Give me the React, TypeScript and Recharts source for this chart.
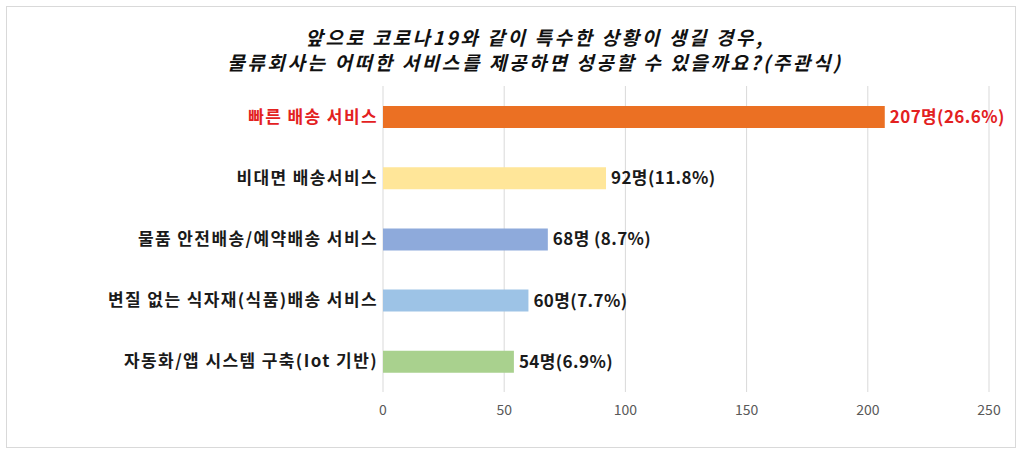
import { BarChart, Bar, XAxis, YAxis, CartesianGrid, Cell, LabelList } from "recharts";

const categories = [
  "빠른 배송 서비스",
  "비대면 배송서비스",
  "물품 안전배송/예약배송 서비스",
  "변질 없는 식자재(식품)배송 서비스",
  "자동화/앱 시스템 구축(Iot 기반)",
];
const counts = [207, 92, 68, 60, 54];
const valueLabels = ["207명(26.6%)", "92명(11.8%)", "68명 (8.7%)", "60명(7.7%)", "54명(6.9%)"];
const barColors = ["#eb7023", "#ffe699", "#8eaadb", "#9dc3e6", "#a9d18e"];
const xTicks = [0, 50, 100, 150, 200, 250];

const titleLines = [
  "앞으로 코로나19와 같이 특수한 상황이 생길 경우,",
  "물류회사는 어떠한 서비스를 제공하면 성공할 수 있을까요?(주관식)",
];

const FONT = "'Noto Sans CJK KR', 'Noto Sans', sans-serif";
const RED = "#e3211f";

const data = categories.map((name, i) => ({
  name,
  value: counts[i],
  label: valueLabels[i],
}));

function CategoryTick(props: any) {
  const { x, y, payload, index } = props;
  return (
    <text
      x={x + 1}
      y={y}
      dy={6}
      textAnchor="end"
      fontFamily={FONT}
      fontWeight={700}
      fontSize={17}
      letterSpacing={1.4}
      fill={index === 0 ? RED : "#1a1a1a"}
    >
      {payload.value}
    </text>
  );
}

function ValueLabel(props: any) {
  const { x, y, width, height, value, index } = props;
  return (
    <text
      x={x + width + 5}
      y={y + height / 2}
      dy={6}
      textAnchor="start"
      fontFamily={FONT}
      fontWeight={700}
      fontSize={17}
      letterSpacing={0.4}
      fill={index === 0 ? RED : "#1a1a1a"}
    >
      {value}
    </text>
  );
}

export default function App() {
  return (
    <div style={{ position: "absolute", left: 0, top: 0, width: 1024, height: 455, background: "#fff" }}>
      <div
        style={{
          position: "absolute",
          left: 6,
          top: 6,
          width: 1008,
          height: 440,
          border: "1px solid #d9d9d9",
        }}
      />
      <div
        style={{
          position: "absolute",
          left: 0,
          top: 24,
          width: 1070,
          textAlign: "center",
          fontFamily: FONT,
          fontWeight: 700,
          fontStyle: "italic",
          fontSize: 19,
          letterSpacing: 2.6,
          lineHeight: "25px",
          color: "#111",
        }}
      >
        {titleLines.map((t) => (
          <div key={t} style={{ height: 25 }}>{t}</div>
        ))}
      </div>
      <div style={{ position: "absolute", left: 0, top: 0 }}>
        <BarChart
          width={1024}
          height={455}
          data={data}
          layout="vertical"
          margin={{ top: 86, right: 35, bottom: 0, left: 0 }}
          barCategoryGap="32%"
        >
          <CartesianGrid horizontal={false} stroke="#d9d9d9" />
          <XAxis
            type="number"
            domain={[0, 250]}
            ticks={xTicks}
            axisLine={false}
            tickLine={false}
            tickSize={0}
            tickMargin={13}
            height={63}
            tick={{ fill: "#595959", fontSize: 14, fontFamily: FONT }}
          />
          <YAxis
            type="category"
            dataKey="name"
            width={383}
            axisLine={false}
            tickLine={false}
            tickSize={0}
            tickMargin={6}
            tick={<CategoryTick />}
          />
          <Bar dataKey="value" barSize={22} isAnimationActive={false}>
            {data.map((d, i) => (
              <Cell key={d.name} fill={barColors[i]} />
            ))}
            <LabelList dataKey="label" content={<ValueLabel />} />
          </Bar>
        </BarChart>
      </div>
    </div>
  );
}
